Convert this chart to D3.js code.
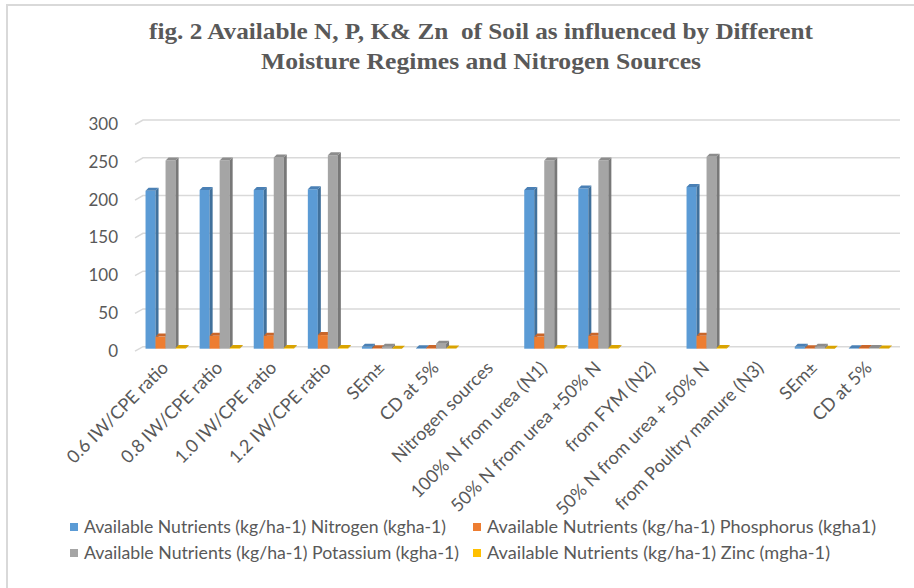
<!DOCTYPE html>
<html>
<head>
<meta charset="utf-8">
<script src="https://cdn.jsdelivr.net/npm/d3@7"></script>
<style>
	body { margin: 0; background: #fff; }
	text { font-family: Lato, "Noto Sans", sans-serif; fill: #595959; }
	.title { font-family: "Liberation Serif", "DejaVu Serif", serif; font-weight: bold; white-space: pre; }
</style>
</head>
<body>
<div id="chart"></div>
<script>

// chart data
const categories = ["0.6 IW/CPE ratio", "0.8 IW/CPE ratio", "1.0 IW/CPE ratio", "1.2 IW/CPE ratio",
	"SEm±", "CD at 5%", "Nitrogen sources", "100% N from urea (N1)", "50% N from urea +50% N",
	"from FYM (N2)", "50% N from urea + 50% N", "from Poultry manure (N3)", "SEm±", "CD at 5%"];

const nitrogen   = [209, 210, 210, 211, 2.5, 0.6, null, 210, 212, null, 214, null, 2.5, 0.6];
const phosphorus = [16, 17, 17, 18, 0.5, 0.8, null, 16, 17, null, 17, null, 0.6, 0.8];
const potassium  = [249, 249, 253, 256, 2.5, 6.5, null, 249, 249, null, 254, null, 2.5, 0.8];
const zinc       = [0.8, 0.8, 0.8, 0.8, 0.03, 0.1, null, 0.8, 0.8, null, 0.8, null, 0.03, 0.1];

const seriesNames = ["Available Nutrients (kg/ha-1) Nitrogen (kgha-1)",
	"Available Nutrients (kg/ha-1) Phosphorus (kgha1)",
	"Available Nutrients (kg/ha-1) Potassium (kgha-1)",
	"Available Nutrients (kg/ha-1) Zinc (mgha-1)"];

const yTicks = [0, 50, 100, 150, 200, 250, 300];

const titleLines = ["fig. 2 Available N, P, K& Zn  of Soil as influenced by Different",
	"Moisture Regimes and Nitrogen Sources"];

// styles
const frontColors = ["#5B9BD5", "#ED7D31", "#A5A5A5", "#FFC000"];
const sideColors  = ["#41719C", "#AE5A21", "#787878", "#BC8C00"];
const topColors   = ["#4A80B5", "#C9662A", "#8C8C8C", "#D9A300"];

const W = 914, H = 588;
const depth = 3;

let svg = d3.select("#chart").append("svg")
	.attr("width", W)
	.attr("height", H);

// chart border (cropped at the right and bottom)
svg.append("path")
	.attr("d", "M7," + H + " L7,5 L" + W + ",5")
	.attr("fill", "none")
	.attr("stroke", "#d9d9d9")
	.attr("stroke-width", 2);

// title
svg.selectAll(".title")
	.data(titleLines)
	.enter()
	.append("text")
	.attr("class", "title")
	.attr("x", 481)
	.attr("y", (d, i) => 39 + i * 30)
	.attr("text-anchor", "middle")
	.attr("font-size", 24)
	.attr("textLength", (d, i) => i === 0 ? 664 : 440)
	.attr("lengthAdjust", "spacingAndGlyphs")
	.text(d => d);

let y = d3.scaleLinear()
	.domain([0, 300])
	.range([346.7, 120]);

let x = d3.scaleBand()
	.domain(d3.range(categories.length))
	.range([138.5, 895.9])
	.paddingInner(0.26)
	.paddingOuter(0.13);

let xs = d3.scaleBand()
	.domain(d3.range(seriesNames.length))
	.range([0, x.bandwidth()]);

// gridlines with the little 3D floor slant on the left
svg.append("g")
	.selectAll("path")
	.data(yTicks)
	.enter()
	.append("path")
	.attr("d", d => "M135," + (y(d) + 4.5) + " L143," + y(d) + " L900," + y(d))
	.attr("fill", "none")
	.attr("stroke", "#d9d9d9")
	.attr("stroke-width", 1.5);

svg.append("g")
	.selectAll("text")
	.data(yTicks)
	.enter()
	.append("text")
	.attr("x", 118)
	.attr("y", d => y(d) + 4)
	.attr("dy", "0.35em")
	.attr("text-anchor", "end")
	.attr("font-size", 17)
	.text(d => d);

// bars
const series = [nitrogen, phosphorus, potassium, zinc];
let bars = [];
categories.forEach((c, i) => {
	series.forEach((s, k) => {
		if (s[i] != null) bars.push({ i: i, k: k, v: s[i] });
	});
});

let barG = svg.append("g");
let base = y(0) + 2;
bars.forEach(d => {
	let bx = x(d.i) + xs(d.k);
	let w = xs.bandwidth();
	let top = y(d.v) + 2;
	let g = barG.append("g");
	g.append("rect")
		.attr("x", bx)
		.attr("y", top)
		.attr("width", w)
		.attr("height", Math.max(0, base - top))
		.attr("fill", frontColors[d.k]);
	g.append("path")
		.attr("d", `M${bx + w},${top} L${bx + w + depth},${top - depth} L${bx + w + depth},${base - depth} L${bx + w},${base} Z`)
		.attr("fill", sideColors[d.k]);
	g.append("path")
		.attr("d", `M${bx},${top} L${bx + depth},${top - depth} L${bx + w + depth},${top - depth} L${bx + w},${top} Z`)
		.attr("fill", topColors[d.k]);
});

// category labels
svg.append("g")
	.selectAll("text")
	.data(categories)
	.enter()
	.append("text")
	.attr("transform", (d, i) => "translate(" + (x(i) + x.bandwidth() / 2 + 4) + ",369) rotate(-45)")
	.attr("text-anchor", "end")
	.attr("font-size", 18)
	.text(d => d);

// legend
const legendPos = [
	{ x: 70, y: 527, w: 362 },
	{ x: 473, y: 527, w: 389 },
	{ x: 70, y: 553, w: 375 },
	{ x: 473, y: 553, w: 343 }
];

let legend = svg.append("g")
	.selectAll("g")
	.data(seriesNames)
	.enter()
	.append("g")
	.attr("transform", (d, i) => "translate(" + legendPos[i].x + "," + legendPos[i].y + ")");

legend.append("rect")
	.attr("x", 0)
	.attr("y", -4)
	.attr("width", 8)
	.attr("height", 8)
	.attr("fill", (d, i) => frontColors[i]);

legend.append("text")
	.attr("x", 14)
	.attr("y", 0)
	.attr("dy", "0.35em")
	.attr("font-size", 17.5)
	.attr("textLength", (d, i) => legendPos[i].w)
	.attr("lengthAdjust", "spacingAndGlyphs")
	.text(d => d);

</script>
</body>
</html>
